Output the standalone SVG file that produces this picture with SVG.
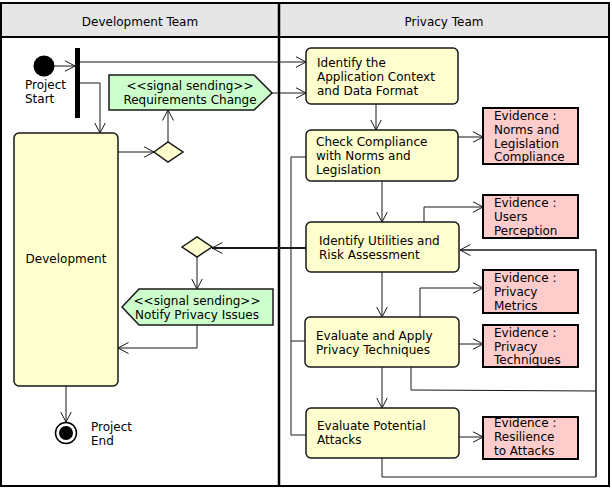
<svg xmlns="http://www.w3.org/2000/svg" width="612" height="489" viewBox="0 0 612 489">
<style>
text{font-family:"DejaVu Sans","Liberation Sans",sans-serif;font-size:12px;fill:#000}
.act{fill:#fefece;stroke:#181818;stroke-width:1.5}
.ev{fill:#ffcccc;stroke:#000;stroke-width:2}
.sig{fill:#ccffcc;stroke:#181818;stroke-width:1.5}
.dia{fill:#fefece;stroke:#181818;stroke-width:1.5}
.c{fill:none;stroke:#181818;stroke-width:1}
.ca{fill:none;stroke:#181818;stroke-width:1;marker-end:url(#arr)}
.mid{text-anchor:middle}
</style>
<defs>
<marker id="arr" markerUnits="userSpaceOnUse" viewBox="0 0 11 12" refX="10.5" refY="6" markerWidth="11" markerHeight="12" orient="auto">
<path d="M0,0.5 L10.5,6 L0,11.5" fill="none" stroke="#181818" stroke-width="1"/>
</marker>
</defs>
<g id="frame">
<rect x="1" y="3" width="608" height="34" fill="#e6e6e6"/>
<rect x="1" y="3" width="608" height="483" fill="none" stroke="#000" stroke-width="2"/>
<line x1="1" y1="37" x2="609" y2="37" stroke="#000" stroke-width="2"/>
<line x1="279" y1="3" x2="279" y2="486" stroke="#000" stroke-width="2.5"/>
<text class="mid" x="140" y="26">Development Team</text>
<text class="mid" x="444" y="26">Privacy Team</text>
</g>
<g id="connectors">
<line class="ca" x1="54" y1="66" x2="75" y2="66"/>
<line class="ca" x1="80" y1="62" x2="306" y2="62"/>
<polyline class="ca" points="80,83 100,83 100,133"/>
<line class="ca" x1="272" y1="93" x2="306" y2="93"/>
<line class="ca" x1="118" y1="152" x2="154" y2="152"/>
<line class="ca" x1="168" y1="142" x2="168" y2="110"/>
<line class="ca" x1="376" y1="104" x2="376" y2="130"/>
<line class="ca" x1="458" y1="137" x2="483" y2="137"/>
<line class="ca" x1="382" y1="181" x2="382" y2="222"/>
<polyline class="ca" points="424,222 424,207 483,207"/>
<polyline class="c" points="306,157 291,157 291,435 306,435"/>
<line class="c" x1="291" y1="341" x2="306" y2="341"/>
<line class="ca" x1="306" y1="248" x2="212" y2="248" style="stroke-width:2"/>
<line class="ca" x1="197" y1="257" x2="197" y2="289"/>
<polyline class="ca" points="197,325 197,348 118,348"/>
<line class="ca" x1="66" y1="386" x2="66" y2="422"/>
<polyline class="ca" points="596,477 596,250 460,250" style="stroke-width:1.5"/>
<line class="ca" x1="382" y1="272" x2="382" y2="317"/>
<polyline class="ca" points="420,317 420,288 483,288"/>
<line class="ca" x1="459" y1="344" x2="483" y2="344"/>
<polyline class="c" points="411,367 411,390 596,391"/>
<line class="ca" x1="382" y1="367" x2="382" y2="408"/>
<line class="ca" x1="459" y1="437" x2="483" y2="437"/>
<polyline class="c" points="382,458 382,477 596,477"/>
</g>
<g id="start">
<circle cx="44" cy="66" r="10.5" fill="#000"/>
<text x="25" y="89">Project</text>
<text x="25" y="103">Start</text>
</g>
<g id="fork">
<rect x="75" y="48" width="5" height="70" fill="#000"/>
</g>
<g id="development">
<rect class="act" x="14" y="133" width="104" height="253" rx="5"/>
<text class="mid" x="66" y="263">Development</text>
</g>
<g id="reqchange">
<polygon class="sig" points="109,75 254,75 272,93 254,110 109,110"/>
<text class="mid" x="190" y="90">&lt;&lt;signal sending&gt;&gt;</text>
<text class="mid" x="190" y="104">Requirements Change</text>
</g>
<g id="decision1">
<polygon class="dia" points="154,152 168,142 183,152 168,162"/>
</g>
<g id="decision2">
<polygon class="dia" points="182,247 197,237 212,247 197,257"/>
</g>
<g id="notify">
<polygon class="sig" points="122,307 139,289 273,289 273,325 139,325"/>
<text class="mid" x="197" y="305">&lt;&lt;signal sending&gt;&gt;</text>
<text class="mid" x="197" y="319">Notify Privacy Issues</text>
</g>
<g id="end">
<circle cx="66" cy="433" r="10.5" fill="#fff" stroke="#000" stroke-width="1.5"/>
<circle cx="66" cy="433" r="7" fill="#000"/>
<text x="91" y="431">Project</text>
<text x="91" y="445">End</text>
</g>
<g id="identify">
<rect class="act" x="306" y="48" width="152" height="56" rx="5"/>
<text x="317" y="67">Identify the</text>
<text x="317" y="81">Application Context</text>
<text x="317" y="95">and Data Format</text>
</g>
<g id="check">
<rect class="act" x="306" y="130" width="152" height="51" rx="5"/>
<text x="316" y="146">Check Compliance</text>
<text x="316" y="160">with Norms and</text>
<text x="316" y="174">Legislation</text>
</g>
<g id="ev-norms">
<rect class="ev" x="483" y="108" width="95" height="56"/>
<text x="494" y="120">Evidence :</text>
<text x="494" y="134">Norms and</text>
<text x="494" y="148">Legislation</text>
<text x="494" y="161">Compliance</text>
</g>
<g id="utilities">
<rect class="act" x="306" y="222" width="153" height="50" rx="5"/>
<text x="319" y="245">Identify Utilities and</text>
<text x="319" y="259">Risk Assessment</text>
</g>
<g id="ev-users">
<rect class="ev" x="483" y="195" width="95" height="43"/>
<text x="494" y="207">Evidence :</text>
<text x="494" y="221">Users</text>
<text x="494" y="235">Perception</text>
</g>
<g id="ev-metrics">
<rect class="ev" x="483" y="270" width="95" height="43"/>
<text x="494" y="282">Evidence :</text>
<text x="494" y="296">Privacy</text>
<text x="494" y="310">Metrics</text>
</g>
<g id="evaluate">
<rect class="act" x="305" y="317" width="154" height="50" rx="5"/>
<text x="316" y="340">Evaluate and Apply</text>
<text x="316" y="354">Privacy Techniques</text>
</g>
<g id="ev-techniques">
<rect class="ev" x="483" y="325" width="95" height="42"/>
<text x="494" y="337">Evidence :</text>
<text x="494" y="351">Privacy</text>
<text x="494" y="364">Techniques</text>
</g>
<g id="attacks">
<rect class="act" x="306" y="408" width="153" height="50" rx="5"/>
<text x="317" y="430">Evaluate Potential</text>
<text x="317" y="444">Attacks</text>
</g>
<g id="ev-resilience">
<rect class="ev" x="483" y="417" width="95" height="42"/>
<text x="494" y="427">Evidence :</text>
<text x="494" y="441">Resilience</text>
<text x="494" y="455">to Attacks</text>
</g>
</svg>
